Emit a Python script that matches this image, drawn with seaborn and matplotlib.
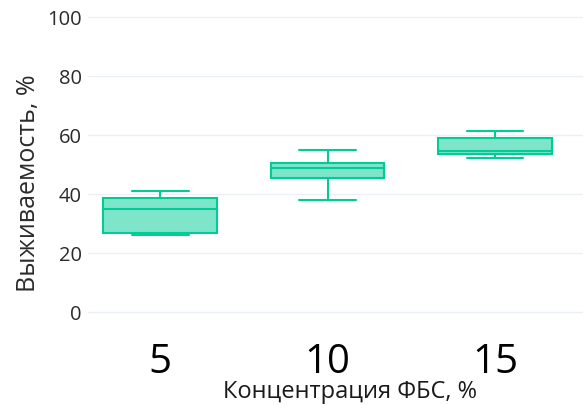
import matplotlib
matplotlib.use("Agg")
import matplotlib.pyplot as plt
import seaborn as sns
import pandas as pd

# FBS concentration groups (x categories) and survival observations per group
concentrations = ["5", "10", "15"]
survival_5 = [26.0, 26.8, 34.8, 38.7, 40.9]
survival_10 = [38.0, 45.3, 49.0, 50.4, 54.9]
survival_15 = [52.4, 53.6, 54.7, 59.1, 61.4]
y_ticks = [0, 20, 40, 60, 80, 100]

df = pd.DataFrame({
    "conc": [concentrations[0]] * len(survival_5)
            + [concentrations[1]] * len(survival_10)
            + [concentrations[2]] * len(survival_15),
    "survival": survival_5 + survival_10 + survival_15,
})

sns.set_theme(style="white")
plt.rcParams["font.family"] = ["Open Sans", "DejaVu Sans"]

line_color = "#00cc96"
fill_color = (0.0, 0.8, 0.588, 0.5)
text_color = "#2b2b2b"

fig = plt.figure(figsize=(5.87, 4.05), dpi=100)
ax = fig.add_axes([0.150, 0.222, 0.843, 0.743])

sns.boxplot(
    data=df, x="conc", y="survival", order=concentrations, ax=ax,
    color=line_color, linecolor=line_color, saturation=1, linewidth=1.5,
    width=0.68, whis=3.0,
    boxprops=dict(facecolor=fill_color),
)

ax.set_ylim(-1, 101)
ax.set_xlim(-0.43, 2.525)
ax.set_yticks(y_ticks)
ax.yaxis.grid(True, color="#ebf0f8", linewidth=1.0)
ax.set_axisbelow(True)
for s in ax.spines.values():
    s.set_visible(False)

ax.tick_params(axis="y", length=0, pad=4.5, labelsize=14.5, labelcolor=text_color)
ax.tick_params(axis="x", length=0, pad=20, labelsize=29, labelcolor="black")

ax.set_ylabel("Выживаемость, %", fontsize=18, color=text_color)
ax.set_xlabel("Концентрация ФБС, %", fontsize=17, color="#1a1a1a")
ax.xaxis.label.set_va("baseline")
ax.xaxis.set_label_coords(0.529, -0.274)
ax.yaxis.set_label_coords(-0.095, 0.439)

fig.savefig("out.png", dpi=100)
